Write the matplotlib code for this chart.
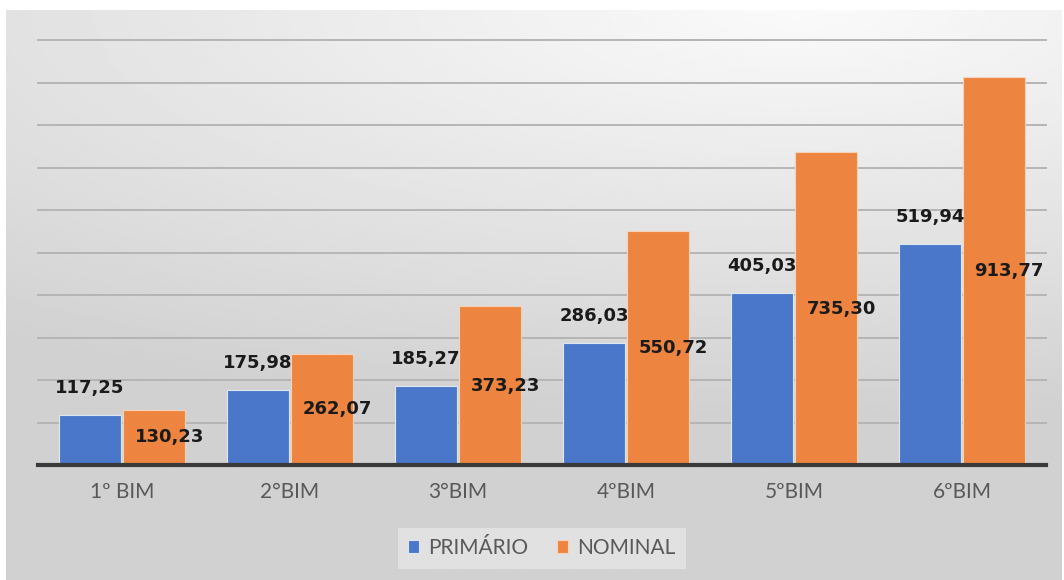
import numpy as np
import matplotlib
matplotlib.use('Agg')
import matplotlib.pyplot as plt

# dados
categorias = ['1º BIM', '2°BIM', '3°BIM', '4ºBIM', '5ºBIM', '6ºBIM']
primario = [117.25, 175.98, 185.27, 286.03, 405.03, 519.94]
nominal = [130.23, 262.07, 373.23, 550.72, 735.30, 913.77]
series = ['PRIMÁRIO', 'NOMINAL']

azul = '#4a77c9'
laranja = '#ed843f'

def fmt(v):
    return ('%.2f' % v).replace('.', ',')

fig = plt.figure(figsize=(10.64, 5.8), dpi=100)
fig.patch.set_facecolor('white')

# fundo com degrade (estilo Excel)
bg = fig.add_axes([6 / 1064, 0, 1 - 8 / 1064, 1 - 10 / 580])
bg.set_axis_off()
yy, xx = np.mgrid[0:1:200j, 0:1:400j]
d = np.sqrt(((xx - 0.75) * 0.8) ** 2 + (yy * 1.4) ** 2)
img = 0.98 - 0.16 * np.clip(d, 0, 1.0)
bg.imshow(img, cmap='gray', vmin=0, vmax=1, aspect='auto', extent=[0, 1, 0, 1])

ax = fig.add_axes([38 / 1064, 115 / 580, 1008 / 1064, 425 / 580])
ax.patch.set_alpha(0)

x = np.arange(len(categorias))
w = 0.37
off = 0.19
b1 = ax.bar(x - off, primario, w, color=azul, edgecolor='#dfe6f3', linewidth=0.8,
            label=series[0], zorder=3)
b2 = ax.bar(x + off, nominal, w, color=laranja, edgecolor='#f6d3bb', linewidth=0.8,
            label=series[1], zorder=3)

for xi, v in zip(x, primario):
    ax.annotate(fmt(v), (xi - off, v), xytext=(0, 19.5), textcoords='offset points',
                ha='center', va='center', fontsize=13, fontweight='bold',
                color='#1a1a1a', zorder=5)
for xi, v in zip(x, nominal):
    ax.annotate(fmt(v), (xi + off, v / 2), xytext=(11, 0), textcoords='offset points',
                ha='center', va='center', fontsize=13, fontweight='bold',
                color='#1a1a1a', zorder=5)

ax.set_xlim(-0.5, len(categorias) - 0.5)
ax.set_ylim(0, 1000)
ax.set_yticks(np.arange(0, 1001, 100))
ax.yaxis.grid(True, color='#b5b5b5', linewidth=1.4, zorder=0)
for gl in ax.get_ygridlines():
    gl.set_clip_on(False)
ax.set_axisbelow(True)
ax.tick_params(axis='y', left=False, labelleft=False)
ax.set_xticks(x)
ax.set_xticklabels(categorias, fontsize=15, color='#595959', family='Lato')
ax.tick_params(axis='x', length=0, pad=12)
for s in ['top', 'right', 'left']:
    ax.spines[s].set_visible(False)
ax.spines['bottom'].set_color('#3a3a3a')
ax.spines['bottom'].set_linewidth(3)
ax.spines['bottom'].set_zorder(4)

leg = fig.legend(handles=[b1, b2], labels=series, loc='center',
                 bbox_to_anchor=(0.509, 0.055), ncol=2, frameon=True,
                 fancybox=False, handlelength=0.55, handleheight=0.6,
                 handletextpad=0.4, columnspacing=1.4, borderpad=0.5,
                 prop={'family': 'Lato', 'size': 15})
leg.get_frame().set_facecolor('#e6e6e6')
leg.get_frame().set_edgecolor('none')
leg.get_frame().set_alpha(0.8)
for t in leg.get_texts():
    t.set_color('#595959')

fig.savefig('out.png', dpi=100)
